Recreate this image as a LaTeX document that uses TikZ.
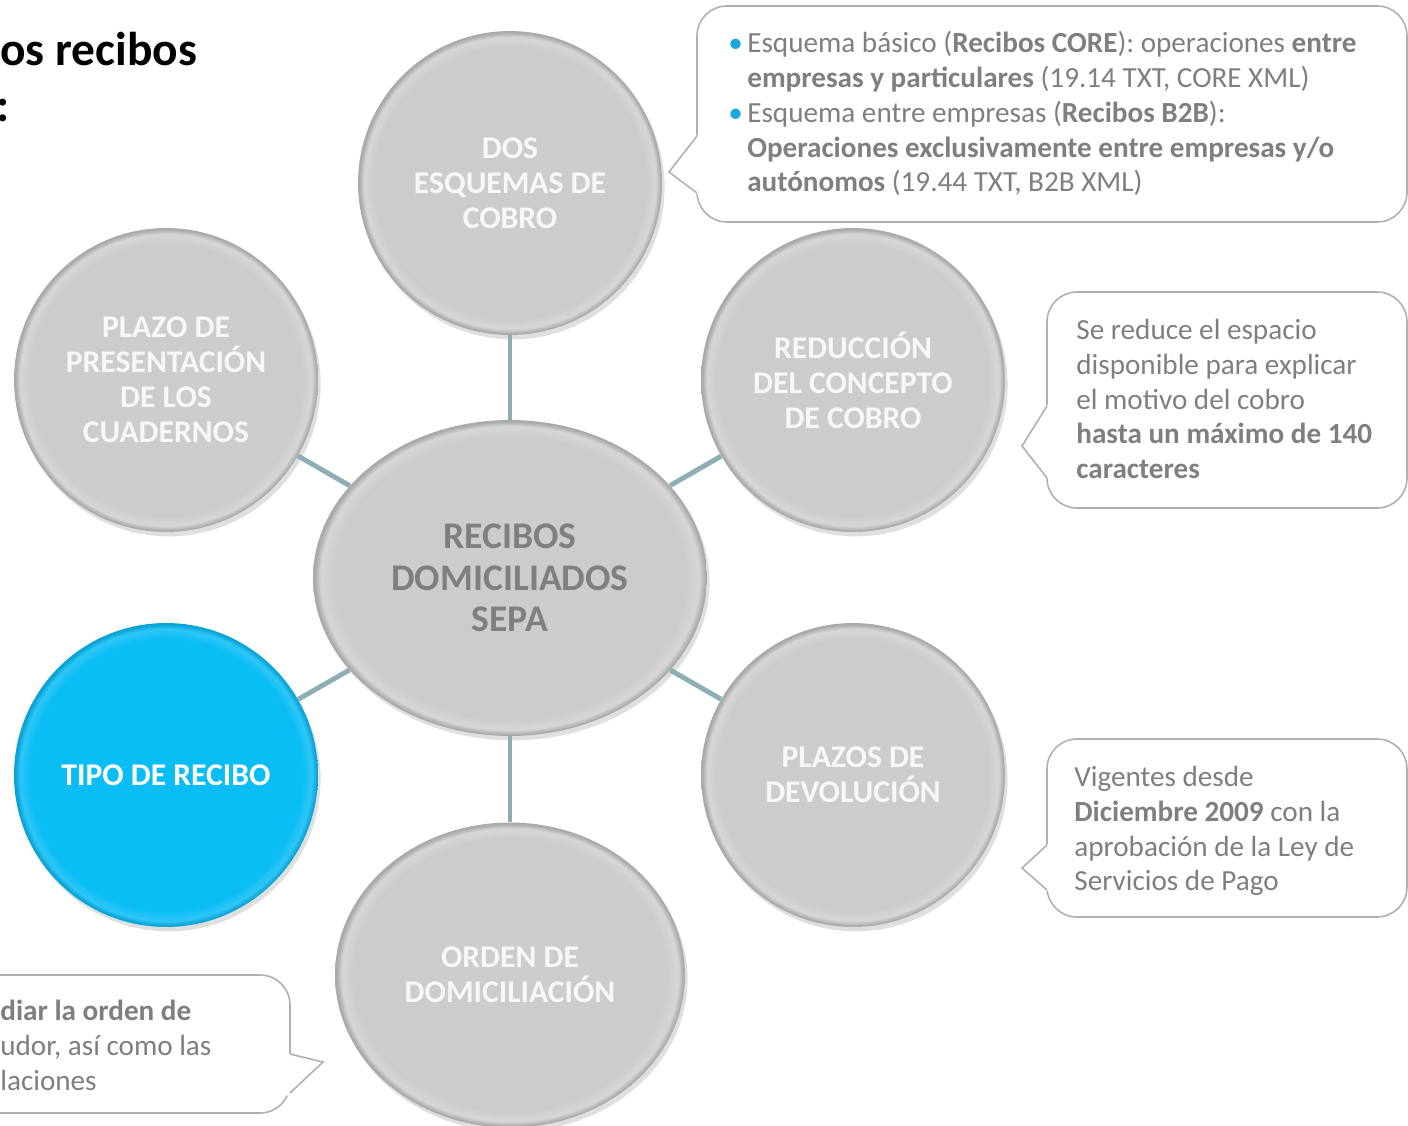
\documentclass[tikz,border=0pt]{standalone}
\usepackage{fontspec}
\setmainfont{Carlito}
\usetikzlibrary{shapes.geometric, shadows, positioning}

\definecolor{cgray}{HTML}{CCCCCC}
\definecolor{clight}{HTML}{D6D6D6}
\definecolor{crim}{HTML}{AAAAAA}
\definecolor{cblue}{HTML}{0ABDF5}
\definecolor{cbluelight}{HTML}{2FC6F6}
\definecolor{cbluerim}{HTML}{0AA3D6}
\definecolor{clink}{HTML}{8EAEB4}
\definecolor{ctopic}{HTML}{F7F7F7}
\definecolor{ctext}{HTML}{7F7F7F}
\definecolor{cedge}{HTML}{B0B0B0}
\definecolor{cbul}{HTML}{1BA8E0}

\pgfdeclareradialshading{graybevel}{\pgfpoint{0bp}{0bp}}{color(0bp)=(cgray); color(22.4bp)=(cgray); color(24bp)=(clight); color(24.8bp)=(crim); color(25bp)=(crim); color(50bp)=(crim)}
\pgfdeclareradialshading{bluebevel}{\pgfpoint{0bp}{0bp}}{color(0bp)=(cblue); color(22.4bp)=(cblue); color(24bp)=(cbluelight); color(24.8bp)=(cbluerim); color(25bp)=(cbluerim); color(50bp)=(cbluerim)}

\begin{document}
\begin{tikzpicture}[x=0.02cm, y=-0.02cm]
  \tikzstyle{topic}=[circle, minimum size=6.08cm, inner sep=0pt, shade, shading=graybevel, drop shadow={shadow xshift=1.5pt, shadow yshift=-2.5pt, opacity=0.25}, text=ctopic, font=\bfseries\fontsize{18}{20}\selectfont, align=center]
  \tikzstyle{hub}=[topic, ellipse, minimum width=7.88cm, minimum height=6.32cm, text=ctext, font=\bfseries\fontsize{21.4}{23.5}\selectfont]
  \tikzstyle{active}=[topic, shading=bluebevel, text=white]
  \tikzstyle{link}=[draw=clink, line width=2.8pt]
  \tikzstyle{bubble}=[draw=cedge, line width=0.9pt, fill=white, rounded corners=17pt]
  \tikzstyle{beak}=[draw=cedge, line width=0.9pt]
  \tikzstyle{note}=[anchor=north west, inner sep=0pt, align=left, text=ctext, font=\fontsize{16.6}{19.8}\selectfont]

  \useasboundingbox (0,0) rectangle (1408,1125);
  \clip (0,0) rectangle (1408,1125);

  % title, cut off on the left
  \node[anchor=base west, inner sep=0pt, font=\bfseries\fontsize{27}{31}\selectfont] (title1) at (0,66) {os recibos};
  \node[anchor=base west, inner sep=0pt, font=\bfseries\fontsize{27}{31}\selectfont] (title2) at (-4,122) {:};

  % circles
  \node[hub] (sepa) at (510,578) {RECIBOS\\DOMICILIADOS\\SEPA};
  \node[topic] (dos) at (510,183) {DOS\\ESQUEMAS DE\\COBRO};
  \node[topic] (plazo) at (166,380) {PLAZO DE\\PRESENTACIÓN\\DE LOS\\CUADERNOS};
  \node[topic] (reduc) at (853,380) {REDUCCIÓN\\DEL CONCEPTO\\DE COBRO};
  \node[topic] (devol) at (853,775) {PLAZOS DE\\DEVOLUCIÓN};
  \node[topic, ellipse, minimum width=7cm, minimum height=6.1cm] (orden) at (510,975) {ORDEN DE\\DOMICILIACIÓN};
  \node[active] (tipo) at (166,775) {TIPO DE RECIBO};

  \path (sepa) edge[link] (dos);
  \path (sepa) edge[link] (plazo);
  \path (sepa) edge[link] (reduc);
  \path (sepa) edge[link] (devol);
  \path (sepa) edge[link] (orden);
  \path (sepa) edge[link] (tipo);

  % callouts
  \draw[bubble] (697,6) rectangle (1407,222);
  \fill[white] (700,132) -- (669,172) -- (700,196) -- cycle;
  \draw[beak] (697,136) -- (669,172) -- (697,193);

  \draw[bubble] (1047,292) rectangle (1407,508);
  \fill[white] (1050,401) -- (1022,446) -- (1050,481) -- cycle;
  \draw[beak] (1047,406) -- (1022,446) -- (1047,478);

  \draw[bubble] (1047,739) rectangle (1407,917);
  \fill[white] (1050,842) -- (1022,868) -- (1050,893) -- cycle;
  \draw[beak] (1047,845) -- (1022,868) -- (1047,890);

  \draw[bubble] (-40,975) rectangle (290,1113);
  \fill[white] (287,1053) -- (323,1062) -- (287,1096) -- cycle;
  \draw[beak] (290,1054) -- (323,1062) -- (290,1093);

  \node[note] (notedos) at (728,31) {\makebox[10.8pt][l]{\textcolor{cbul}{\textbullet}}Esquema básico (\textbf{Recibos CORE}): operaciones \textbf{entre}\\
    \hspace*{10.8pt}\textbf{empresas y particulares} (19.14 TXT, CORE XML)\\
    \makebox[10.8pt][l]{\textcolor{cbul}{\textbullet}}Esquema entre empresas (\textbf{Recibos B2B}):\\
    \hspace*{10.8pt}\textbf{Operaciones exclusivamente entre empresas y/o}\\
    \hspace*{10.8pt}\textbf{autónomos} (19.44 TXT, B2B XML)};
  \node[note] (notereduc) at (1076,319) {Se reduce el espacio\\disponible para explicar\\el motivo del cobro\\\textbf{hasta un máximo de 140}\\\textbf{caracteres}};
  \node[note] (notedevol) at (1074,766) {Vigentes desde\\\textbf{Diciembre 2009} con la\\aprobación de la Ley de\\Servicios de Pago};
  \node[note] (noteorden) at (0,1000) {\textbf{diar la orden de}\\udor, así como las\\laciones};
\end{tikzpicture}
\end{document}
